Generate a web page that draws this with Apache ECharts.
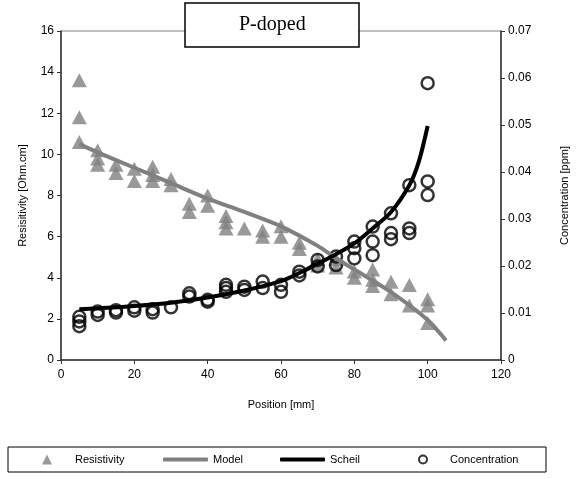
<!DOCTYPE html>
<html>
<head>
<meta charset="utf-8">
<script src="https://cdn.jsdelivr.net/npm/echarts@6/dist/echarts.min.js"></script>
<style>
  html, body { margin: 0; padding: 0; background: #fff; }
  #chart { width: 587px; height: 479px; }
</style>
</head>
<body>
<div id="chart"></div>
<script>
// resistivity measurements (left axis)
var resPos = [5, 5, 5, 10, 10, 10, 15, 15, 20, 20, 25, 25, 25, 30, 30, 35, 35, 40, 40,
  45, 45, 45, 50, 55, 55, 60, 60, 65, 65, 70, 70, 75, 75, 80, 80, 85, 85, 85, 90, 90,
  95, 95, 100, 100, 100]
var resVal = [13.6, 11.8, 10.6, 10.2, 9.8, 9.5, 9.5, 9.1, 9.3, 8.7, 9.4, 9.0, 8.7, 8.8, 8.5,
  7.6, 7.2, 8.0, 7.5, 7.0, 6.7, 6.4, 6.4, 6.3, 6.0, 6.5, 6.0, 5.7, 5.4, 4.9, 4.6, 4.9, 4.5,
  4.3, 4.0, 4.4, 3.9, 3.6, 3.8, 3.2, 3.65, 2.65, 2.95, 2.65, 1.8]

// model curve (left axis)
var modelPos = [5, 10, 20, 30, 40, 50, 60, 70, 75, 80, 90, 100, 105]
var modelVal = [10.5, 10.1, 9.35, 8.6, 7.85, 7.2, 6.5, 5.55, 4.95, 4.4, 3.3, 1.95, 0.95]

// scheil curve (right axis)
var scheilPos = [5, 10, 20, 30, 40, 50, 60, 65, 70, 75, 80, 85, 90, 95, 97.5, 100]
var scheilVal = [0.0108, 0.011, 0.0115, 0.0122, 0.0133, 0.0148, 0.0168, 0.0185, 0.0205,
  0.0225, 0.0248, 0.028, 0.0315, 0.0372, 0.042, 0.0498]

// concentration measurements (right axis)
var concPos = [5, 5, 5, 10, 10, 15, 15, 20, 20, 25, 25, 30, 35, 35, 40, 40, 45, 45, 45,
  50, 50, 55, 55, 60, 60, 65, 65, 70, 70, 75, 75, 80, 80, 80, 85, 85, 85, 90, 90, 90,
  95, 95, 95, 100, 100, 100]
var concVal = [0.0092, 0.0082, 0.0072, 0.0103, 0.0096, 0.0106, 0.0101, 0.0112, 0.0105,
  0.0108, 0.0101, 0.0112, 0.0142, 0.0135, 0.0128, 0.0124, 0.016, 0.0153, 0.0145,
  0.0156, 0.0149, 0.0167, 0.0153, 0.016, 0.0145, 0.0188, 0.018, 0.0213, 0.0199,
  0.022, 0.0202, 0.0252, 0.0238, 0.0216, 0.0284, 0.0252, 0.0223, 0.0312, 0.027, 0.0257,
  0.0372, 0.028, 0.027, 0.0589, 0.038, 0.0351]

function pairs(xs, ys) {
  return xs.map(function(x, i) { return [x, ys[i]] })
}

var font = 'Liberation Sans'
var chart = echarts.init(document.getElementById('chart'))

// one legend per entry so each can sit where excel put it
function legendAt(left, top, width, height, gap, item) {
  return {
    left: left,
    top: top,
    padding: 0,
    itemWidth: width,
    itemHeight: height,
    symbolKeepAspect: true,
    textStyle: { fontFamily: font, fontSize: 11, color: '#000', padding: [0, 0, 0, gap] },
    data: [item]
  }
}

chart.setOption({
  animation: false,
  backgroundColor: '#fff',
  title: {
    text: 'P-doped',
    left: 185,
    top: 3,
    padding: [12, 54, 12, 54],
    borderWidth: 1.5,
    borderColor: '#000',
    backgroundColor: '#fff',
    textStyle: { fontFamily: 'Liberation Serif', fontSize: 20, fontWeight: 'normal', color: '#000' }
  },
  graphic: [{
    type: 'rect',
    shape: { x: 8, y: 447, width: 538, height: 25 },
    style: { fill: 'none', stroke: '#000', lineWidth: 1 },
    z: -1
  }],
  legend: [
    legendAt(42, 454, 10, 10, 18, { name: 'Resistivity', icon: 'triangle' }),
    legendAt(163, 454, 45, 4, 0, { name: 'Model', icon: 'roundRect' }),
    legendAt(280, 454, 45, 4, 0, { name: 'Scheil', icon: 'roundRect' }),
    legendAt(418, 454, 8, 8, 18, { name: 'Concentration', icon: 'circle' })
  ],
  grid: {
    left: 61,
    right: 86,
    top: 31,
    bottom: 119,
    show: true,
    borderColor: '#808080',
    borderWidth: 1
  },
  xAxis: {
    type: 'value',
    min: 0,
    max: 120,
    interval: 20,
    name: 'Position [mm]',
    nameLocation: 'middle',
    nameGap: 39,
    nameTextStyle: { fontFamily: font, fontSize: 11, color: '#000' },
    axisLine: { lineStyle: { color: '#333', width: 1.5 } },
    axisTick: { length: 4, lineStyle: { color: '#333' } },
    axisLabel: { fontFamily: font, fontSize: 12, color: '#000', margin: 9 },
    splitLine: { show: false }
  },
  yAxis: [{
    type: 'value',
    min: 0,
    max: 16,
    interval: 2,
    name: 'Resisitivity [Ohm.cm]',
    nameLocation: 'middle',
    nameRotate: 90,
    nameGap: 33,
    nameTextStyle: { fontFamily: font, fontSize: 11, color: '#000' },
    axisLine: { show: true, lineStyle: { color: '#333', width: 1.5 } },
    axisTick: { show: true, length: 4, lineStyle: { color: '#333' } },
    axisLabel: { fontFamily: font, fontSize: 12, color: '#000', margin: 7 },
    splitLine: { show: false }
  }, {
    type: 'value',
    position: 'right',
    min: 0,
    max: 0.07,
    interval: 0.01,
    name: 'Concentration [ppm]',
    nameLocation: 'middle',
    nameRotate: 90,
    nameGap: 58,
    nameTextStyle: { fontFamily: font, fontSize: 11, color: '#000' },
    axisLine: { show: true, lineStyle: { color: '#333', width: 1.5 } },
    axisTick: { show: true, length: 4, lineStyle: { color: '#333' } },
    axisLabel: { fontFamily: font, fontSize: 12, color: '#000', margin: 7 },
    splitLine: { show: false }
  }],
  series: [{
    name: 'Resistivity',
    type: 'scatter',
    yAxisIndex: 0,
    symbol: 'triangle',
    symbolSize: [15, 14],
    itemStyle: { color: '#808080' },
    data: pairs(resPos, resVal)
  }, {
    name: 'Model',
    type: 'line',
    yAxisIndex: 0,
    smooth: 0.3,
    showSymbol: false,
    symbol: 'none',
    lineStyle: { color: '#808080', width: 4 },
    itemStyle: { color: '#808080' },
    data: pairs(modelPos, modelVal)
  }, {
    name: 'Scheil',
    type: 'line',
    yAxisIndex: 1,
    smooth: 0.3,
    showSymbol: false,
    symbol: 'none',
    lineStyle: { color: '#000', width: 4 },
    itemStyle: { color: '#000' },
    data: pairs(scheilPos, scheilVal)
  }, {
    name: 'Concentration',
    type: 'scatter',
    yAxisIndex: 1,
    symbol: 'circle',
    symbolSize: 12,
    itemStyle: { color: 'transparent', borderColor: '#000', borderWidth: 2.5 },
    data: pairs(concPos, concVal)
  }]
})
</script>
</body>
</html>
